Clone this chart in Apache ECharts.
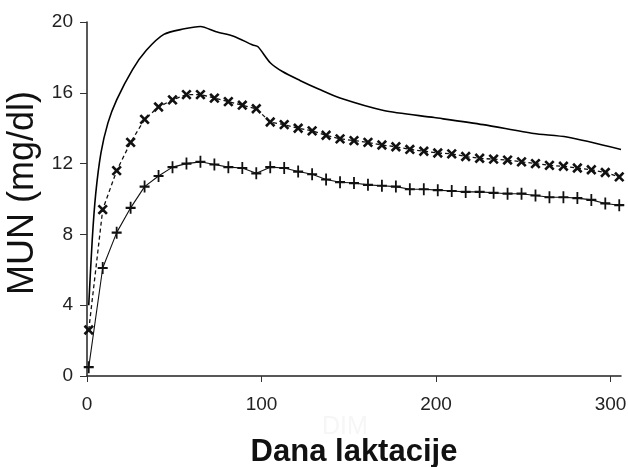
<!DOCTYPE html>
<html>
<head>
<meta charset="utf-8">
<script src="https://cdn.jsdelivr.net/npm/echarts@6/dist/echarts.min.js"></script>
<style>
html,body{margin:0;padding:0;background:#fff;}
#chart{width:628px;height:467px;}
</style>
</head>
<body>
<div id="chart"></div>
<script>
// Days in milk for the marked series
const markDays = [1, 9, 17, 25, 33, 41, 49, 57, 65, 73, 81, 89, 97, 105, 113, 121, 129, 137, 145, 153, 161, 169, 177, 185, 193, 201, 209, 217, 225, 233, 241, 249, 257, 265, 273, 281, 289, 297, 305];
// Middle curve (dashed line with x markers)
const crossValues = [2.6, 9.4, 11.6, 13.2, 14.5, 15.2, 15.6, 15.9, 15.9, 15.7, 15.5, 15.3, 15.1, 14.35, 14.2, 14.0, 13.85, 13.6, 13.4, 13.3, 13.2, 13.05, 12.95, 12.8, 12.7, 12.6, 12.55, 12.4, 12.3, 12.25, 12.2, 12.1, 12.0, 11.9, 11.85, 11.75, 11.65, 11.5, 11.25];
// Lower curve (solid line with + markers)
const plusValues = [0.5, 6.1, 8.1, 9.5, 10.7, 11.3, 11.8, 12.0, 12.1, 11.95, 11.8, 11.75, 11.45, 11.8, 11.75, 11.55, 11.4, 11.1, 10.95, 10.9, 10.8, 10.75, 10.7, 10.55, 10.55, 10.5, 10.45, 10.4, 10.4, 10.35, 10.3, 10.3, 10.2, 10.1, 10.1, 10.05, 9.95, 9.75, 9.65];
// Upper curve (plain solid line)
const topDays = [1, 3, 5, 8, 12, 17, 26, 34, 44, 55, 65, 74, 84, 95, 98, 105, 112, 122, 133, 145, 170, 199, 227, 256, 275, 306];
const topValues = [4.0, 7.7, 10.3, 12.6, 14.3, 15.6, 17.3, 18.4, 19.3, 19.6, 19.75, 19.45, 19.2, 18.7, 18.6, 17.7, 17.2, 16.7, 16.2, 15.7, 15.0, 14.6, 14.2, 13.7, 13.5, 12.8];
// Axis ticks
const xTicks = [0, 100, 200, 300];
const yTicks = [0, 4, 8, 12, 16, 20];

const pair = (xs, ys) => xs.map((x, i) => [x, ys[i]]);
const PLUS = 'path://M4.1,0H5.9V4.1H10V5.9H5.9V10H4.1V5.9H0V4.1H4.1Z';
const CROSS = 'path://M3.9,0H6.1V3.9H10V6.1H6.1V10H3.9V6.1H0V3.9H3.9Z';
const FONT = '"Liberation Sans", Arial, sans-serif';

const chart = echarts.init(document.getElementById('chart'), null, {renderer: 'canvas'});
chart.setOption({
  animation: false,
  backgroundColor: '#fff',
  grid: {left: 87, right: 7, top: 22, bottom: 91, containLabel: false, outerBoundsMode: 'none'},
  xAxis: {
    type: 'value', min: xTicks[0], max: 306, interval: 100,
    name: 'Dana laktacije', nameLocation: 'middle', nameGap: 61,
    nameTextStyle: {fontFamily: FONT, fontSize: 31, fontWeight: 'bold', color: '#111'},
    axisLine: {lineStyle: {color: '#222', width: 1.5}},
    axisTick: {length: 6, lineStyle: {color: '#333'}, customValues: xTicks},
    axisLabel: {fontFamily: FONT, fontSize: 19, color: '#222', margin: 19, customValues: xTicks},
    splitLine: {show: false}
  },
  yAxis: {
    type: 'value', min: yTicks[0], max: yTicks[yTicks.length - 1], interval: 4,
    name: 'MUN (mg/dl)', nameLocation: 'middle', nameGap: 42, nameRotate: 90,
    nameTextStyle: {fontFamily: FONT, fontSize: 36, color: '#111', padding: [0, 0, 0, 12]},
    axisLine: {show: true, lineStyle: {color: '#222', width: 1.5}},
    axisTick: {show: true, length: 7, lineStyle: {color: '#333'}},
    axisLabel: {fontFamily: FONT, fontSize: 19, color: '#222', margin: 14},
    splitLine: {show: false}
  },
  graphic: [{
    type: 'text', left: 322, top: 415, silent: true,
    style: {text: 'DIM', fontFamily: FONT, fontSize: 25, fill: '#f6f6f6'}
  }],
  series: [
    {
      type: 'line', data: pair(topDays, topValues), smooth: 0.25,
      showSymbol: false, symbol: 'none',
      lineStyle: {color: '#000', width: 1.6}
    },
    {
      type: 'line', data: pair(markDays, crossValues),
      symbol: CROSS, symbolSize: 12, symbolRotate: 45,
      itemStyle: {color: '#111', borderWidth: 0},
      lineStyle: {color: '#111', width: 1.3, type: [4, 3]}
    },
    {
      type: 'line', data: pair(markDays, plusValues),
      symbol: PLUS, symbolSize: [10, 12],
      itemStyle: {color: '#111', borderWidth: 0},
      lineStyle: {color: '#111', width: 1.1}
    }
  ]
});
</script>
</body>
</html>
